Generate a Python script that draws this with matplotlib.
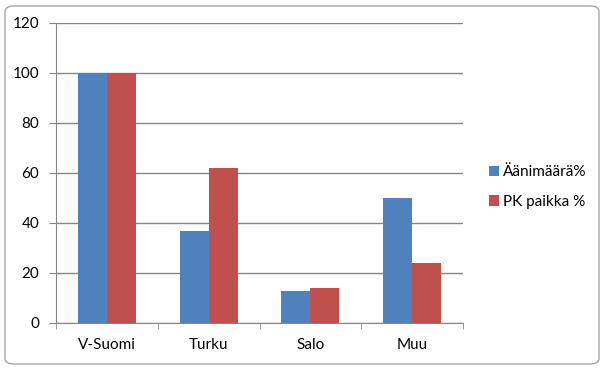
import matplotlib
matplotlib.use("Agg")
import matplotlib.pyplot as plt
import numpy as np
from matplotlib.patches import FancyBboxPatch

categories = ["V-Suomi", "Turku", "Salo", "Muu"]
aanimaara = [100, 37, 13, 50]
pk_paikka = [100, 62, 14, 24]
series_names = ["Äänimäärä%", "PK paikka %"]
yticks = [0, 20, 40, 60, 80, 100, 120]

BLUE, RED = "#4f81bd", "#c0504d"
GRID = "#868686"
FS = 11

plt.rcParams["font.family"] = ["Lato", "DejaVu Sans"]

fig = plt.figure(figsize=(6.03, 3.70), dpi=100)
fig.patch.set_facecolor("white")
# rounded chart-area border
frame = FancyBboxPatch((5 / 603, 6 / 370), 594 / 603, 358 / 370,
                       boxstyle="round,pad=0,rounding_size=0.015",
                       transform=fig.transFigure, facecolor="white",
                       edgecolor="#a6a6a6", linewidth=1.0, zorder=-10)
fig.patches.append(frame)

ax = fig.add_axes([56 / 603, 1 - 323 / 370, (463 - 56) / 603, 300 / 370])
ax.set_facecolor("none")

x = np.arange(len(categories))
w = 1 / 3.5   # gap width 150 %
ax.bar(x - w / 2, aanimaara, w, color=BLUE, label=series_names[0], zorder=3)
ax.bar(x + w / 2, pk_paikka, w, color=RED, label=series_names[1], zorder=3)

ax.set_xlim(-0.5, len(categories) - 0.5)
ax.set_ylim(0, 120)
ax.set_yticks(yticks)
ax.grid(axis="y", color=GRID, linewidth=1.0, zorder=0)
ax.set_xticks(x)
ax.set_xticklabels(categories, fontsize=FS)
ax.set_xticks(np.arange(len(categories) + 1) - 0.5, minor=True)
ax.tick_params(axis="x", which="major", length=0, pad=11)
ax.tick_params(axis="x", which="minor", length=4, color=GRID, direction="out")
ax.tick_params(axis="y", length=5, color=GRID, labelsize=FS, pad=7)

for s in ("top", "right"):
    ax.spines[s].set_visible(False)
for s in ("left", "bottom"):
    ax.spines[s].set_color(GRID)

ax.legend(loc="center left", bbox_to_anchor=(481 / 603, 1 - 187 / 370),
          bbox_transform=fig.transFigure, frameon=False, fontsize=FS,
          handlelength=0.7, handleheight=0.7, handletextpad=0.25,
          labelspacing=1.0, borderpad=0)

fig.savefig("out.png", dpi=100, facecolor="white")
